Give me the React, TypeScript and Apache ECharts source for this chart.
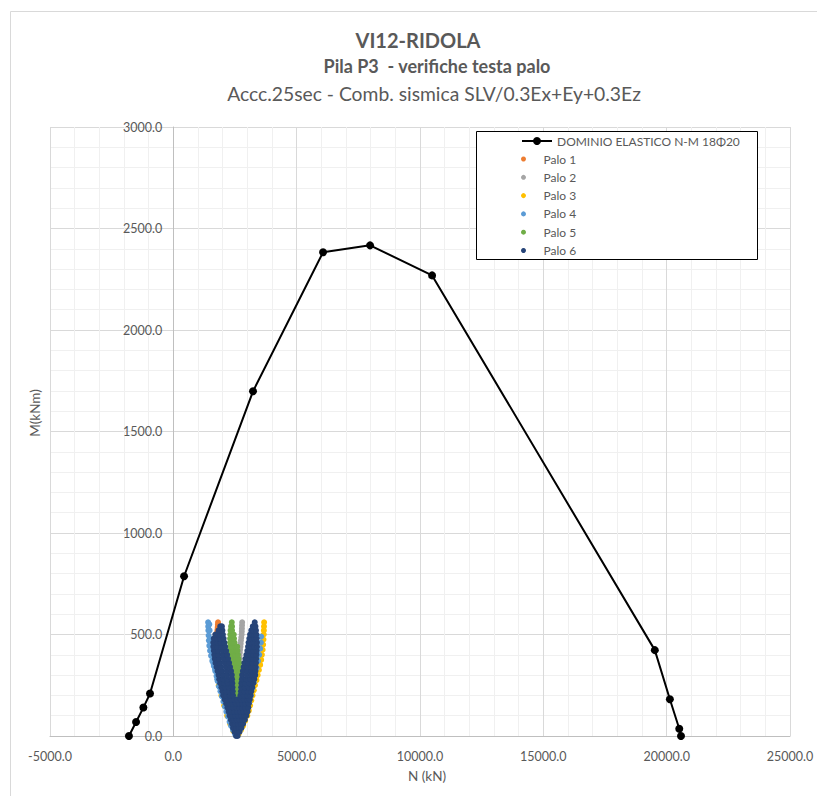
import React, { useEffect, useRef } from "react";
import * as echarts from "echarts";

const FONT = "Lato, 'Open Sans', 'Noto Sans', sans-serif";

const TITLE_LINES = [
  "VI12-RIDOLA",
  "Pila P3  - verifiche testa palo",
  "Accc.25sec - Comb. sismica SLV/0.3Ex+Ey+0.3Ez",
];
const X_TITLE = "N (kN)";
const Y_TITLE = "M(kNm)";

const DOMAIN_NAME = "DOMINIO ELASTICO N-M 18Φ20";
const PALO_NAMES = ["Palo 1", "Palo 2", "Palo 3", "Palo 4", "Palo 5", "Palo 6"];
const PALO_COLORS = ["#ED7D31", "#A5A5A5", "#FFC000", "#5B9BD5", "#70AD47", "#264478"];

// Domain N (kN), M (kNm)
const DOMAIN: [number, number][] = [
  [-1800, 0], [-1510, 69], [-1215, 140], [-945, 209], [435, 787], [3230, 1698],
  [6070, 2383], [7975, 2417], [10490, 2269], [19520, 423], [20130, 181], [20510, 36], [20580, 0],
];

const PALO_1: [number, number][] = [
  [1812, 560], [1805, 548], [1798, 536], [1790, 524], [1780, 512], [1770, 500], [1750, 480],
  [1730, 460], [1710, 440], [1700, 420], [1720, 400], [1760, 370], [1800, 340], [1850, 310],
  [1920, 270], [2000, 230], [2100, 190], [2200, 150], [2300, 110], [2400, 70], [2500, 30],
  [2700, 40], [2850, 100], [3000, 180], [3100, 260], [3180, 340], [3230, 420], [3250, 480],
];

const PALO_2: [number, number][] = [
  [2790, 560], [2785, 545], [2780, 530], [2775, 515], [2770, 500], [2755, 485], [2740, 470],
  [2730, 455], [2720, 440], [2705, 425], [2695, 410], [2685, 395], [2680, 380], [2660, 340],
  [2650, 300], [2620, 250], [2600, 200], [2580, 100],
];

const PALO_3: [number, number][] = [
  [2650, 10], [2740, 30], [2830, 50], [2910, 75], [3000, 100], [3060, 125], [3110, 150],
  [3160, 175], [3210, 200], [3260, 225], [3310, 250], [3370, 275], [3420, 300], [3470, 325],
  [3520, 350], [3560, 375], [3590, 400], [3620, 425], [3640, 450], [3655, 475], [3665, 500],
  [3670, 520], [3675, 540], [3680, 560],
  [2430, 25], [2300, 60], [2180, 100], [2060, 150], [1950, 200], [1840, 250],
];

const PALO_4: [number, number][] = [
  [2500, 10], [2420, 30], [2340, 50], [2280, 70], [2220, 95], [2150, 120], [2090, 145],
  [2030, 170], [1970, 195], [1910, 220], [1850, 245], [1800, 270], [1750, 295], [1700, 320],
  [1640, 345], [1580, 370], [1530, 395], [1490, 420], [1460, 445], [1440, 470], [1430, 495],
  [1420, 520], [1415, 540], [1410, 560],
  [1500, 440], [1480, 480], [1470, 520], [1460, 550], [1560, 400], [1620, 360], [1690, 330],
  [1780, 280], [1880, 240], [1990, 200],
  [2700, 30], [2800, 60], [2900, 95], [2990, 130], [3070, 165], [3140, 200], [3200, 235],
  [3260, 265], [3320, 300], [3380, 335], [3430, 370], [3480, 400], [3520, 430], [3550, 460],
  [3560, 490],
];

const PALO_5: [number, number][] = [
  [2560, 100], [2580, 140], [2560, 180],
  [2490, 200], [2600, 200],
  [2470, 220], [2580, 220], [2690, 220],
  [2450, 240], [2560, 240], [2680, 240],
  [2430, 260], [2540, 260], [2650, 260], [2740, 260],
  [2410, 280], [2520, 280], [2630, 280], [2750, 280],
  [2400, 300], [2510, 300], [2620, 300], [2740, 300],
  [2380, 320], [2490, 320], [2600, 320], [2710, 320],
  [2360, 340], [2470, 340], [2580, 340], [2690, 340],
  [2340, 360], [2450, 360], [2560, 360], [2670, 360],
  [2330, 380], [2430, 380], [2540, 380], [2640, 380],
  [2320, 400], [2420, 400], [2520, 400], [2620, 400],
  [2310, 420], [2410, 420], [2510, 420], [2600, 420],
  [2300, 440], [2400, 440], [2500, 440], [2590, 440],
  [2300, 460], [2390, 460], [2480, 460],
  [2300, 480], [2380, 480], [2460, 480],
  [2310, 500], [2380, 500], [2450, 500],
  [2320, 520], [2380, 520],
  [2340, 540], [2380, 540],
  [2370, 560],
];

const PALO_6: [number, number][] = [
  [2540, 0], [2610, 0],
  [2480, 20], [2580, 20], [2680, 20],
  [2420, 40], [2540, 40], [2660, 40], [2760, 40],
  [2380, 60], [2500, 60], [2620, 60], [2740, 60], [2830, 60],
  [2330, 80], [2450, 80], [2570, 80], [2690, 80], [2810, 80], [2900, 80],
  [2280, 100], [2400, 100], [2520, 100], [2640, 100], [2760, 100], [2880, 100], [2960, 100],
  [2240, 120], [2360, 120], [2480, 120], [2600, 120], [2720, 120], [2840, 120], [2960, 120], [3010, 120],
  [2190, 140], [2310, 140], [2430, 140], [2550, 140], [2670, 140], [2790, 140], [2910, 140], [3040, 140],
  [2140, 160], [2270, 160], [2400, 160], [2530, 160], [2660, 160], [2790, 160], [2920, 160], [3060, 160],
  [2080, 180], [2210, 180], [2340, 180], [2470, 180], [2600, 180], [2730, 180], [2860, 180], [2990, 180], [3100, 180],
  [2020, 200], [2150, 200], [2290, 200], [2420, 200], [2720, 200], [2860, 200], [3000, 200], [3130, 200],
  [1990, 220], [2130, 220], [2270, 220], [2410, 220], [2740, 220], [2880, 220], [3020, 220], [3160, 220],
  [1950, 240], [2100, 240], [2250, 240], [2400, 240], [2750, 240], [2900, 240], [3050, 240], [3200, 240],
  [1900, 260], [2060, 260], [2220, 260], [2390, 260], [2760, 260], [2920, 260], [3080, 260], [3240, 260],
  [1860, 280], [2030, 280], [2200, 280], [2380, 280], [2780, 280], [2950, 280], [3120, 280], [3280, 280],
  [1830, 300], [2010, 300], [2190, 300], [2370, 300], [2790, 300], [2970, 300], [3150, 300], [3320, 300],
  [1790, 320], [1970, 320], [2160, 320], [2340, 320], [2820, 320], [2990, 320], [3160, 320], [3330, 320],
  [1750, 340], [1930, 340], [2120, 340], [2300, 340], [2850, 340], [3010, 340], [3180, 340], [3340, 340],
  [1710, 360], [1890, 360], [2080, 360], [2260, 360], [2880, 360], [3040, 360], [3200, 360], [3350, 360],
  [1680, 380], [1860, 380], [2040, 380], [2220, 380], [2920, 380], [3070, 380], [3220, 380], [3360, 380],
  [1660, 400], [1830, 400], [2010, 400], [2180, 400], [2960, 400], [3100, 400], [3240, 400], [3370, 400],
  [1640, 420], [1810, 420], [1980, 420], [2140, 420], [3000, 420], [3130, 420], [3260, 420], [3380, 420],
  [1620, 440], [1780, 440], [1940, 440], [2100, 440], [3030, 440], [3150, 440], [3270, 440], [3390, 440],
  [1620, 460], [1770, 460], [1920, 460], [2070, 460], [3050, 460], [3160, 460], [3280, 460], [3390, 460],
  [1640, 480], [1770, 480], [1910, 480], [2040, 480], [3080, 480], [3180, 480], [3280, 480], [3380, 480],
  [1700, 500], [1810, 500], [1910, 500], [2010, 500], [3110, 500], [3200, 500], [3290, 500], [3370, 500],
  [1830, 520], [1920, 520], [1990, 520], [3160, 520], [3250, 520], [3350, 520],
  [1900, 540], [1970, 540], [3220, 540], [3280, 540], [3330, 540],
  [3300, 560],
];

const PALO_DATA = [PALO_1, PALO_2, PALO_3, PALO_4, PALO_5, PALO_6];

export default function App() {
  const ref = useRef<HTMLDivElement>(null);
  useEffect(() => {
    if (!ref.current) return;
    const chart = echarts.init(ref.current, undefined, { renderer: "svg" });
    const fmt = (v: number) => v.toFixed(1);
    const option: any = {
      animation: false,
      backgroundColor: "#ffffff",
      textStyle: { fontFamily: FONT },
      grid: { left: 50, top: 127, width: 740, height: 609 },
      xAxis: {
        type: "value",
        min: -5000,
        max: 25000,
        interval: 5000,
        axisLine: { show: true, onZero: true, lineStyle: { color: "#bfbfbf" } },
        axisTick: { show: false },
        axisLabel: { formatter: fmt, color: "#595959", fontSize: 12.5, margin: 14, fontFamily: FONT },
        splitLine: { show: true, lineStyle: { color: "#d9d9d9" } },
        minorTick: { show: false, splitNumber: 5 },
        minorSplitLine: { show: true, lineStyle: { color: "#f0f0f0" } },
      },
      yAxis: {
        type: "value",
        min: 0,
        max: 3000,
        interval: 500,
        position: "left",
        offset: -123.3,
        axisLine: { show: true, onZero: false, lineStyle: { color: "#bfbfbf" } },
        axisTick: { show: false },
        axisLabel: { formatter: fmt, color: "#595959", fontSize: 12.5, margin: 11, fontFamily: FONT },
        splitLine: { show: true, lineStyle: { color: "#d9d9d9" } },
        minorTick: { show: false, splitNumber: 5 },
        minorSplitLine: { show: true, lineStyle: { color: "#f0f0f0" } },
      },
      legend: [
        {
          data: [DOMAIN_NAME],
          left: 521,
          top: 134,
          padding: 0,
          itemWidth: 30,
          itemHeight: 10,
          textStyle: { color: "#595959", fontSize: 12, fontFamily: FONT, lineHeight: 14 },
          selectedMode: false,
        },
        {
          data: PALO_NAMES.map((n) => ({ name: n, icon: "circle" })),
          orient: "vertical",
          left: 521,
          top: 152,
          padding: 0,
          itemWidth: 30,
          itemHeight: 5,
          itemGap: 4.3,
          textStyle: { color: "#595959", fontSize: 12, fontFamily: FONT, lineHeight: 14 },
          selectedMode: false,
        },
      ],
      graphic: [
        {
          type: "rect",
          shape: { x: 10.5, y: 11.5, width: 900, height: 900 },
          style: { fill: "none", stroke: "#d9d9d9", lineWidth: 1 },
          silent: true,
          z: 0,
        },
        {
          type: "rect",
          shape: { x: 476.5, y: 131.5, width: 281, height: 128 },
          style: { fill: "#ffffff", stroke: "#000000", lineWidth: 1 },
          silent: true,
          z: 3,
        },
        {
          type: "text",
          x: 418,
          y: 40,
          style: { text: TITLE_LINES[0], fill: "#595959", font: `bold 20px ${FONT}`, align: "center", verticalAlign: "middle" },
        },
        {
          type: "text",
          x: 437,
          y: 66,
          style: { text: TITLE_LINES[1], fill: "#595959", font: `bold 18px ${FONT}`, align: "center", verticalAlign: "middle" },
        },
        {
          type: "text",
          x: 434,
          y: 93,
          style: { text: TITLE_LINES[2], fill: "#595959", font: `19.3px ${FONT}`, align: "center", verticalAlign: "middle" },
        },
        {
          type: "text",
          x: 427,
          y: 776,
          style: { text: X_TITLE, fill: "#595959", font: `13.5px ${FONT}`, align: "center", verticalAlign: "middle" },
        },
        {
          type: "text",
          x: 35,
          y: 413,
          rotation: Math.PI / 2,
          style: { text: Y_TITLE, fill: "#595959", font: `13.5px ${FONT}`, align: "center", verticalAlign: "middle" },
        },
      ],
      series: [
        {
          name: DOMAIN_NAME,
          type: "line",
          data: DOMAIN,
          symbol: "circle",
          symbolSize: 8,
          showSymbol: true,
          lineStyle: { color: "#000000", width: 2 },
          itemStyle: { color: "#000000" },
          z: 3,
        },
        ...PALO_NAMES.map((name, i) => ({
          name,
          type: "scatter",
          data: PALO_DATA[i],
          symbol: "circle",
          symbolSize: 6,
          itemStyle: { color: PALO_COLORS[i], opacity: 1 },
          z: 2,
        })),
      ],
    };
    chart.setOption(option);
    return () => chart.dispose();
  }, []);
  return <div ref={ref} style={{ width: 817, height: 796, position: "absolute", left: 0, top: 0 }} />;
}
